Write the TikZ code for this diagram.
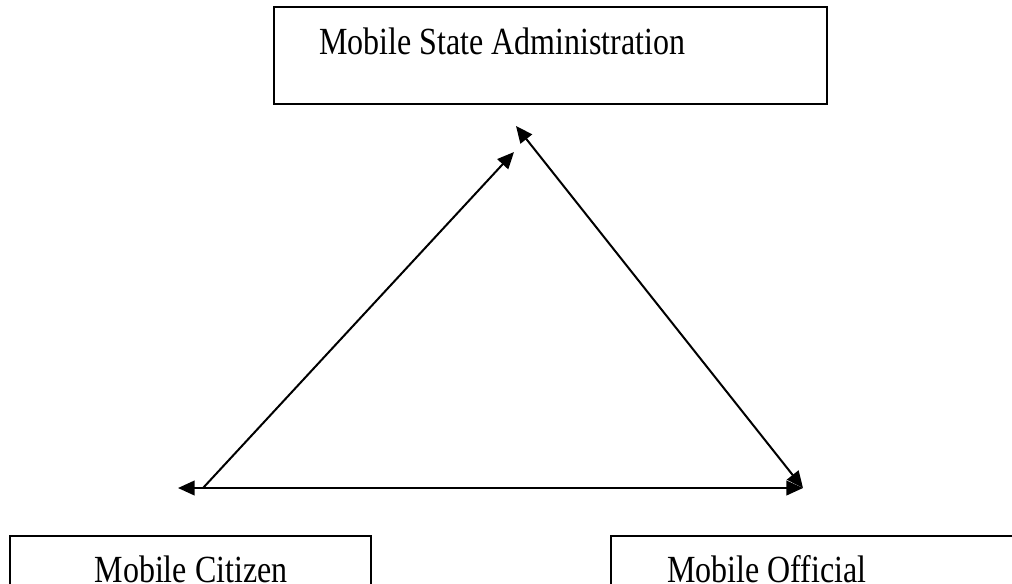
\documentclass[tikz,border=0pt]{standalone}
\usepackage{fontspec}
\setmainfont{Liberation Serif}
\usetikzlibrary{arrows.meta}
\begin{document}
\begin{tikzpicture}[x=0.75pt,y=-0.75pt,
  box/.style={draw=black,line width=1.5pt,fill=white,inner sep=0pt},
  lbl/.style={inner sep=0pt,font=\fontsize{24}{28}\selectfont},
  conn/.style={line width=1.5pt,draw=black},
  tip/.style={-{Triangle[length=12.5pt,width=11pt]}},
  tips/.style={{Triangle[length=12.5pt,width=11pt]}-{Triangle[length=12.5pt,width=11pt]}}]
\clip (0,0) rectangle (1012,583);
\fill[white] (0,0) rectangle (1012,583);
% boxes
\node[box,minimum width=414.75pt,minimum height=72.75pt] (msa) at (550.5,55.5) {};
\node[lbl,anchor=base west] (msat) at (319,54) {\scalebox{1}[1.2]{Mobile State Administration}};
\node[box,minimum width=270.75pt,minimum height=63pt] (mc) at (190.5,578) {};
\node[lbl,anchor=base] (mct) at (191,582) {\scalebox{1}[1.2]{Mobile Citizen}};
\node[box,minimum width=315pt,minimum height=63pt] (mo) at (821,578) {};
\node[lbl,anchor=base] (mot) at (767,582) {\scalebox{1}[1.2]{Mobile Official}};
% connector end points
\coordinate (c) at (203,488);
\coordinate (t1) at (514,152);
\coordinate (t2) at (516,126);
\coordinate (r) at (803,488);
\coordinate (l) at (178,488);
\draw[conn,tip] (c) -- (t1);
\draw[conn,tips] (t2) -- (r);
\draw[conn,tips] (l) -- (r);
\end{tikzpicture}
\end{document}
